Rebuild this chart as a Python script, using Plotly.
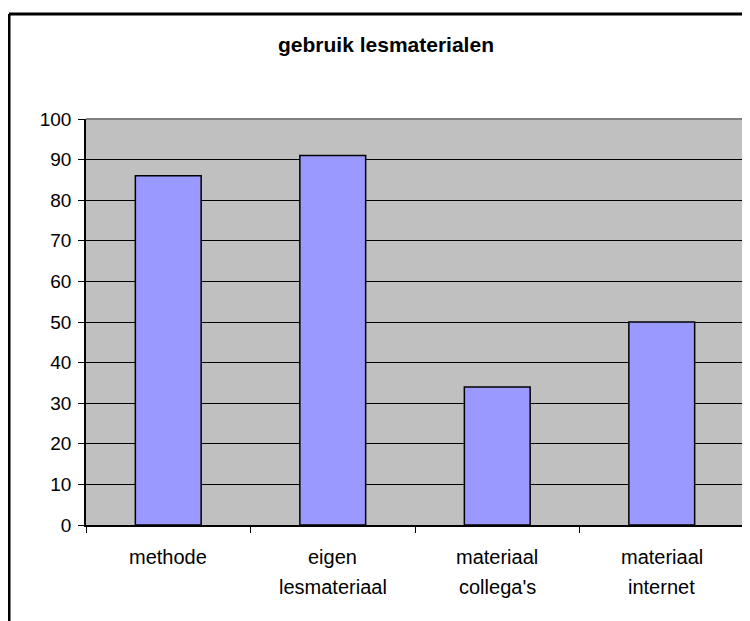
import plotly.graph_objects as go

# data
categories = ["methode", "eigen<br>lesmateriaal", "materiaal<br>collega's", "materiaal<br>internet"]
values = [86, 91, 34, 50]
y_ticks = [0, 10, 20, 30, 40, 50, 60, 70, 80, 90, 100]

FONT = "Liberation Sans, Arial, sans-serif"
# the page body adds an 8px offset, so the figure is sized to fill the rest
OFF = 8
W, H = 750 - OFF, 621 - OFF
ML, MT = 86 - OFF, 119 - OFF
MR, MB = W - (744 - OFF), H - (525 - OFF)
PW, PH = W - ML - MR, H - MT - MB


def px_x(px):
    return (px - OFF - ML) / PW


def px_y(py):
    return (H - MB - (py - OFF)) / PH


fig = go.Figure()
fig.add_trace(
    go.Bar(
        x=categories,
        y=values,
        width=0.4,
        marker=dict(color="#9999FF", line=dict(color="black", width=1.5)),
        hoverinfo="x+y",
    )
)

# category labels, two lines each, with the wide line spacing of the original
for cat in categories:
    for i, line in enumerate(cat.split("<br>")):
        fig.add_annotation(
            x=cat, xref="x", y=0, yref="paper",
            yanchor="middle", yshift=-32 - 30 * i,
            text=line, showarrow=False,
            font=dict(family=FONT, size=20, color="black"),
        )

# grey plot-area frame on top and right
fig.add_shape(type="line", xref="paper", yref="paper", x0=0, x1=1, y0=1, y1=1,
              line=dict(color="#808080", width=2), layer="above")
fig.add_shape(type="line", xref="paper", yref="paper", x0=1, x1=1, y0=0, y1=1,
              line=dict(color="#808080", width=2), layer="above")

# outer chart border (top and left visible)
fig.add_shape(type="line", xref="paper", yref="paper",
              x0=px_x(9), x1=px_x(760), y0=px_y(14), y1=px_y(14),
              line=dict(color="black", width=3))
fig.add_shape(type="line", xref="paper", yref="paper",
              x0=px_x(9), x1=px_x(9), y0=px_y(14), y1=px_y(630),
              line=dict(color="black", width=3))

fig.update_layout(
    width=W,
    height=H,
    margin=dict(l=ML, r=MR, t=MT, b=MB),
    paper_bgcolor="white",
    plot_bgcolor="#C0C0C0",
    showlegend=False,
    title=dict(
        text="<b>gebruik lesmaterialen</b>",
        x=(386 - OFF) / W, xanchor="center",
        y=1 - (45 - OFF) / H, yanchor="middle",
        font=dict(family=FONT, size=21, color="black"),
    ),
    xaxis=dict(
        type="category",
        tickson="boundaries",
        ticks="outside", ticklen=6, tickcolor="black",
        showticklabels=False,
        showline=True, linecolor="black", linewidth=1.5,
        showgrid=False,
        range=[-0.5, 3.5],
    ),
    yaxis=dict(
        range=[0, 100],
        tickvals=y_ticks,
        ticks="outside", ticklen=6, tickcolor="black",
        showline=True, linecolor="black", linewidth=1.5,
        showgrid=True, gridcolor="black", gridwidth=1,
        zeroline=False,
        tickfont=dict(family=FONT, size=19, color="black"),
        ticklabelstandoff=3,
    ),
)

fig.write_html("out.html")
